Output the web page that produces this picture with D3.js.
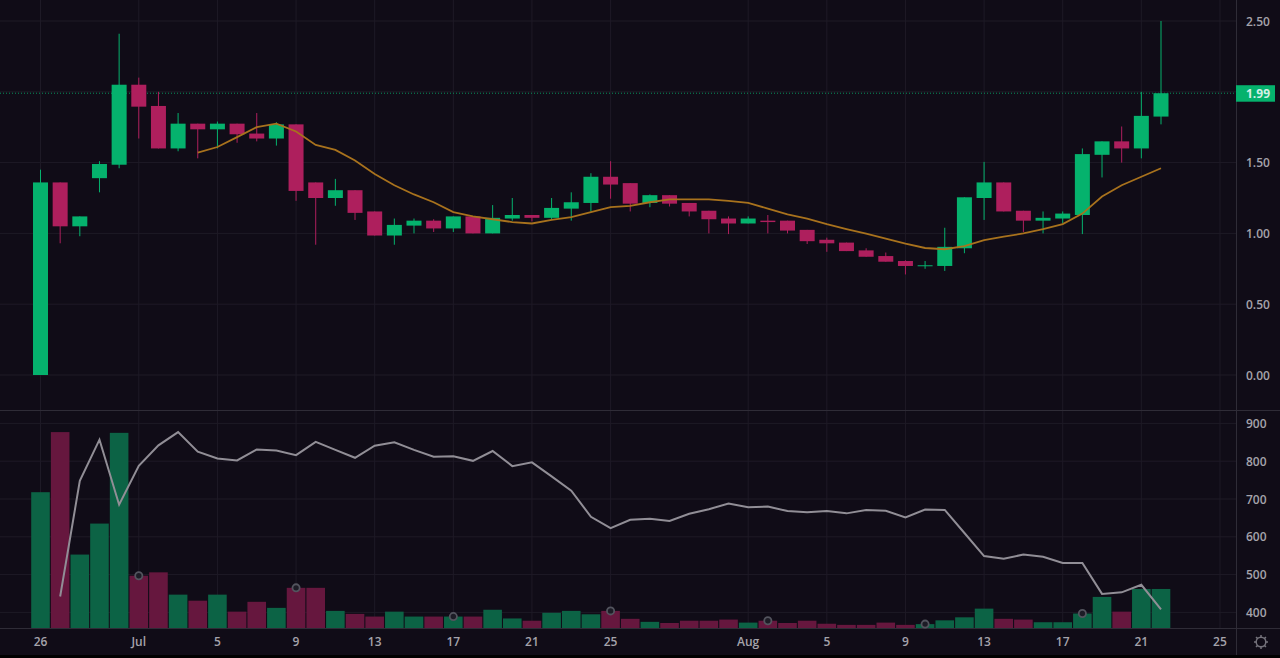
<!DOCTYPE html>
<html>
<head>
<meta charset="utf-8">
<script src="https://cdn.jsdelivr.net/npm/d3@7"></script>
<style>
    html, body { margin: 0; padding: 0; background: #100c17; overflow: hidden; }
    text { font-family: "Open Sans", sans-serif; font-size: 12px; font-weight: 600; fill: #a5a3ab; }
</style>
</head>
<body>
<svg id="chart" width="1280" height="658"></svg>
<script>
// Candles, one per day starting at Jun 26
let opens = [0.00, 1.36, 1.05, 1.39, 1.485, 2.05, 1.90, 1.60, 1.775, 1.735, 1.775, 1.705, 1.67, 1.77, 1.36, 1.25, 1.305, 1.155, 0.985, 1.055,
    1.09, 1.035, 1.12, 1.00, 1.105, 1.13, 1.11, 1.175, 1.215, 1.40, 1.355, 1.215, 1.27, 1.215, 1.16, 1.105, 1.07, 1.09, 1.09, 1.025,
    0.955, 0.935, 0.88, 0.84, 0.805, 0.77, 0.77, 0.895, 1.25, 1.36, 1.16, 1.09, 1.105, 1.13, 1.555, 1.65, 1.60, 1.825];
let highs = [1.45, 1.36, 1.12, 1.51, 2.41, 2.10, 2.00, 1.85, 1.775, 1.79, 1.775, 1.85, 1.785, 1.77, 1.36, 1.385, 1.305, 1.155, 1.105, 1.105,
    1.10, 1.12, 1.12, 1.20, 1.25, 1.13, 1.25, 1.29, 1.425, 1.51, 1.355, 1.275, 1.27, 1.215, 1.16, 1.12, 1.12, 1.13, 1.09, 1.025,
    0.97, 0.935, 0.895, 0.865, 0.81, 0.805, 1.04, 1.255, 1.505, 1.36, 1.16, 1.155, 1.155, 1.60, 1.65, 1.755, 2.00, 2.50];
let lows = [0.00, 0.93, 0.98, 1.29, 1.46, 1.67, 1.60, 1.58, 1.53, 1.60, 1.64, 1.65, 1.62, 1.23, 0.92, 1.195, 1.095, 0.985, 0.92, 1.00,
    1.01, 1.01, 1.00, 1.00, 1.09, 1.085, 1.10, 1.09, 1.155, 1.245, 1.155, 1.185, 1.19, 1.12, 1.00, 0.995, 1.07, 1.00, 1.00, 0.925,
    0.87, 0.875, 0.835, 0.80, 0.71, 0.75, 0.735, 0.86, 1.095, 1.155, 1.01, 1.00, 1.07, 0.995, 1.395, 1.50, 1.53, 1.77];
let closes = [1.36, 1.05, 1.12, 1.49, 2.05, 1.895, 1.60, 1.775, 1.735, 1.775, 1.70, 1.67, 1.77, 1.30, 1.25, 1.305, 1.145, 0.985, 1.06, 1.09,
    1.035, 1.12, 1.00, 1.11, 1.13, 1.11, 1.18, 1.22, 1.40, 1.345, 1.21, 1.27, 1.21, 1.155, 1.10, 1.07, 1.105, 1.08, 1.02, 0.945,
    0.93, 0.875, 0.835, 0.80, 0.77, 0.775, 0.905, 1.255, 1.36, 1.155, 1.09, 1.11, 1.14, 1.56, 1.65, 1.60, 1.83, 1.99];

// Moving average, begins on the 9th candle
let maValues = [1.57, 1.61, 1.68, 1.75, 1.775, 1.72, 1.625, 1.59, 1.515, 1.42, 1.34, 1.275, 1.22, 1.15, 1.12, 1.10, 1.08, 1.07, 1.095, 1.115,
    1.15, 1.185, 1.195, 1.22, 1.24, 1.24, 1.24, 1.23, 1.215, 1.175, 1.135, 1.105, 1.065, 1.03, 0.998, 0.963, 0.927, 0.897, 0.888, 0.91,
    0.953, 0.977, 1.00, 1.03, 1.066, 1.14, 1.26, 1.34, 1.40, 1.46];
let maStart = 8;

// Lower pane, read against its own axis
let volumes = [718, 877, 553, 635, 875, 497, 506, 447, 431, 447, 402, 428, 412, 465, 465, 404, 396, 389, 402, 389,
    389, 389, 389, 407, 384, 378, 399, 404, 395, 404, 383, 375, 372, 378, 378, 381, 373, 378, 372, 378,
    370, 367, 367, 373, 367, 369, 379, 387, 410, 383, 381, 374, 374, 397, 441, 402, 462, 462];
let oscValues = [442, 748, 857, 685, 788, 842, 877, 825, 807, 802, 831, 828, 816, 851, 830, 809, 841, 850, 830,
    812, 813, 801, 827, 787, 797, 760, 722, 653, 623, 645, 648, 642, 661, 673, 688, 678, 680, 668, 665, 668,
    662, 671, 669, 651, 672, 671, 610, 549, 542, 553, 547, 531, 531, 449, 453, 473, 408];
let oscStart = 1;
let eventDays = [5, 13, 21, 29, 37, 45, 53];

// Axis ticks
let priceTicks = [0, 0.5, 1, 1.5, 2, 2.5];
let lowerTicks = [400, 500, 600, 700, 800, 900];
let dayTicks = [0, 5, 9, 13, 17, 21, 25, 29, 36, 40, 44, 48, 52, 56, 60];
let dayLabels = ["26", "Jul", "5", "9", "13", "17", "21", "25", "Aug", "5", "9", "13", "17", "21", "25"];
let lastPrice = 1.99;

let upColor = "#05b26d";
let downColor = "#ae1f5d";
let upVolume = "#0c6345";
let downVolume = "#66173e";
let gridColor = "#1e1a26";
let borderColor = "#2f2c37";

let svg = d3.select("#chart");

let x = d3.scaleLinear().domain([0, 57]).range([40.5, 1161]);
let yPrice = d3.scaleLinear().domain([0, 2.5]).range([375, 21]);
let yLower = d3.scaleLinear().domain([400, 900]).range([612.4, 423.4]);

// Grid lines
let grid = svg.append("g");
grid.selectAll("line.day").data(dayTicks).enter().append("line")
    .attr("class", "day")
    .attr("x1", d => x(d)).attr("x2", d => x(d))
    .attr("y1", 0).attr("y2", 628)
    .attr("stroke", gridColor);
grid.selectAll("line.price").data(priceTicks).enter().append("line")
    .attr("class", "price")
    .attr("x1", 0).attr("x2", 1236)
    .attr("y1", d => yPrice(d)).attr("y2", d => yPrice(d))
    .attr("stroke", gridColor);
grid.selectAll("line.lower").data(lowerTicks).enter().append("line")
    .attr("class", "lower")
    .attr("x1", 0).attr("x2", 1236)
    .attr("y1", d => yLower(d)).attr("y2", d => yLower(d))
    .attr("stroke", gridColor);

// Pane borders
svg.append("line").attr("x1", 0).attr("x2", 1280).attr("y1", 410.5).attr("y2", 410.5).attr("stroke", borderColor);
svg.append("line").attr("x1", 0).attr("x2", 1280).attr("y1", 628.5).attr("y2", 628.5).attr("stroke", borderColor);
svg.append("line").attr("x1", 1236.5).attr("x2", 1236.5).attr("y1", 0).attr("y2", 655).attr("stroke", borderColor);
svg.append("rect").attr("x", 0).attr("y", 655).attr("width", 1280).attr("height", 3).attr("fill", "#000");

// Last price line
svg.append("line")
    .attr("x1", 0).attr("x2", 1236)
    .attr("y1", yPrice(lastPrice)).attr("y2", yPrice(lastPrice))
    .attr("stroke", upColor).attr("stroke-opacity", 0.8).attr("stroke-dasharray", "1 2");

// Volume bars
svg.append("g").selectAll("rect").data(volumes).enter().append("rect")
    .attr("x", (d, i) => x(i) - 9.3)
    .attr("width", 18.6)
    .attr("y", d => yLower(d))
    .attr("height", d => 628 - yLower(d))
    .attr("fill", (d, i) => closes[i] >= opens[i] ? upVolume : downVolume);

// Candles
let candles = svg.append("g");
candles.selectAll("line").data(closes).enter().append("line")
    .attr("x1", (d, i) => x(i)).attr("x2", (d, i) => x(i))
    .attr("y1", (d, i) => yPrice(highs[i]))
    .attr("y2", (d, i) => yPrice(lows[i]))
    .attr("stroke", (d, i) => d >= opens[i] ? upColor : downColor);
candles.selectAll("rect").data(closes).enter().append("rect")
    .attr("x", (d, i) => x(i) - 7.5)
    .attr("width", 15)
    .attr("y", (d, i) => yPrice(Math.max(d, opens[i])))
    .attr("height", (d, i) => Math.max(1, Math.abs(yPrice(d) - yPrice(opens[i]))))
    .attr("fill", (d, i) => d >= opens[i] ? upColor : downColor);

// Moving average line
let maLine = d3.line()
    .x((d, i) => x(i + maStart))
    .y(d => yPrice(d));
svg.append("path").datum(maValues)
    .attr("d", maLine)
    .attr("fill", "none")
    .attr("stroke", "#a8721d")
    .attr("stroke-width", 1.8);

// Lower pane line
let oscLine = d3.line()
    .x((d, i) => x(i + oscStart))
    .y(d => yLower(d));
svg.append("path").datum(oscValues)
    .attr("d", oscLine)
    .attr("fill", "none")
    .attr("stroke", "#918e96")
    .attr("stroke-width", 2);

// Event markers on the volume bars
svg.append("g").selectAll("circle").data(eventDays).enter().append("circle")
    .attr("cx", d => x(d))
    .attr("cy", d => yLower(volumes[d]))
    .attr("r", 3.6)
    .attr("fill", "#1d1c26")
    .attr("stroke", "#53545e")
    .attr("stroke-width", 1.8);

// Right axes
svg.append("g").selectAll("text").data(priceTicks.filter(d => d !== 2)).enter().append("text")
    .attr("x", 1246)
    .attr("y", d => yPrice(d) + 4.5)
    .text(d => d3.format(".2f")(d));
svg.append("g").selectAll("text").data(lowerTicks).enter().append("text")
    .attr("x", 1246)
    .attr("y", d => yLower(d) + 4.5)
    .text(d => d);

// Last price label
svg.append("rect")
    .attr("x", 1236).attr("y", yPrice(lastPrice) - 8)
    .attr("width", 39).attr("height", 16.5)
    .attr("fill", upColor);
svg.append("text")
    .attr("x", 1246).attr("y", yPrice(lastPrice) + 4.5)
    .style("fill", "#d5efe5").style("font-weight", 700)
    .text(d3.format(".2f")(lastPrice));

// Bottom axis
svg.append("g").selectAll("text").data(dayTicks).enter().append("text")
    .attr("x", d => x(d))
    .attr("y", 646)
    .attr("text-anchor", "middle")
    .text((d, i) => dayLabels[i]);

// Settings gear in the corner
let gear = svg.append("g").attr("transform", "translate(1261,642)");
gear.append("circle").attr("r", 4.8).attr("fill", "none").attr("stroke", "#74727b").attr("stroke-width", 1.5);
gear.selectAll("line").data(d3.range(8)).enter().append("line")
    .attr("x1", 0).attr("x2", 0).attr("y1", -4.8).attr("y2", -7)
    .attr("transform", d => `rotate(${d * 45})`)
    .attr("stroke", "#74727b").attr("stroke-width", 1.5);
</script>
</body>
</html>
